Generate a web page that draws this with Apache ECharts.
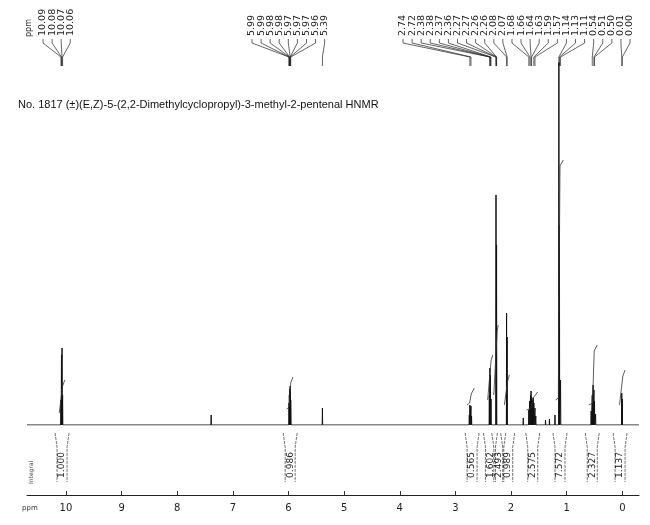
<!DOCTYPE html>
<html>
<head>
<meta charset="utf-8">
<script src="https://cdn.jsdelivr.net/npm/echarts@6/dist/echarts.min.js"></script>
<style>html,body{margin:0;padding:0;background:#fff}#c{width:650px;height:525px}</style>
</head>
<body>
<div id="c"></div>
<script>
// ---- data ----
const peakShifts = [10.09, 10.08, 10.07, 10.06, 7.39, 5.99, 5.985, 5.98, 5.975, 5.97, 5.965, 5.96, 5.39,
  2.75, 2.74, 2.72, 2.71, 2.39, 2.38, 2.37, 2.36, 2.27, 2.26, 2.08, 2.07, 1.78,
  1.68, 1.665, 1.65, 1.64, 1.63, 1.615, 1.60, 1.59, 1.57, 1.555, 1.38, 1.31, 1.21,
  1.14, 1.13, 1.11, 0.56, 0.54, 0.525, 0.51, 0.50, 0.48, 0.01, 0.00];
const peakHeights = [25, 70, 77, 30, 10, 22, 30, 33, 36, 39, 34, 25, 17,
  10, 20, 19, 9, 30, 57, 50, 26, 230, 180, 112, 88, 7,
  15, 24, 30, 34, 28, 25, 27, 22, 17, 9, 5, 6, 10,
  370, 200, 45, 14, 30, 40, 35, 24, 11, 32, 26];

const integralFrom   = [10.12, 6.03, 2.79, 2.42, 2.31, 2.12, 1.72, 1.20, 0.60, 0.05];
const integralCenter = [10.075, 5.975, 2.73, 2.375, 2.265, 2.075, 1.62, 1.135, 0.52, 0.005];
const integralTo     = [10.02, 5.92, 2.66, 2.33, 2.23, 2.03, 1.52, 1.06, 0.45, -0.05];
const integralLow    = [12, 16, 20, 25, 30, 20, 15, 25, 20, 20];
const integralHigh   = [45, 48, 37, 70, 100, 50, 33, 265, 80, 55];

const integralLabelShift = [10.07, 5.97, 2.70, 2.37, 2.22, 2.06, 1.61, 1.12, 0.54, 0.04];
const integralValues = ['1.000', '0.986', '0.565', '1.602', '2.493', '0.989', '2.575', '7.572', '2.327', '1.137'];

const leftLabels  = ['10.09', '10.08', '10.07', '10.06'];
const midLabels   = ['5.99', '5.99', '5.98', '5.98', '5.97', '5.97', '5.97', '5.96', '5.39'];
const rightLabels = ['2.74', '2.72', '2.38', '2.38', '2.37', '2.36', '2.27', '2.27', '2.26', '2.26', '2.08', '2.07',
  '1.68', '1.66', '1.64', '1.63', '1.59', '1.57', '1.14', '1.13', '1.11', '0.54', '0.51', '0.50', '0.01', '0.00'];

const axisTicks = [0, 1, 2, 3, 4, 5, 6, 7, 8, 9, 10];

// ---- layout constants ----
const groupStartX = [43, 252, 403];
const labelStep = 9.08;
const FONT = 'DejaVu Sans, sans-serif';
const INK = '#111';

// ---- build series data ----
const order = peakShifts.map((p, i) => i).sort((a, b) => peakShifts[b] - peakShifts[a]);
const spec = [[10.7, 0]];
const hw = 0.004;
order.forEach(i => {
  const p = peakShifts[i];
  spec.push([p + hw, 0], [p, peakHeights[i]], [p - hw, 0]);
});
spec.push([-0.3, 0]);

const integralSeries = integralFrom.map((f, i) => ({
  type: 'line', silent: true, symbol: 'none', animation: false,
  lineStyle: { color: '#333', width: 0.8 },
  data: [[f, integralLow[i]], [integralCenter[i] + 0.015, integralLow[i] + 2],
         [integralCenter[i] - 0.015, integralHigh[i] - 6], [integralTo[i], integralHigh[i]]]
}));

const labelData = [];
[leftLabels, midLabels, rightLabels].forEach((arr, g) => {
  arr.forEach((t, k) => labelData.push([parseFloat(t), 0, g, k]));
});
const labelTexts = [leftLabels, midLabels, rightLabels];

const chart = echarts.init(document.getElementById('c'), null, { renderer: 'canvas' });
chart.setOption({
  animation: false,
  backgroundColor: '#fff',
  title: {
    text: 'No. 1817 (±)(E,Z)-5-(2,2-Dimethylcyclopropyl)-3-methyl-2-pentenal HNMR',
    left: 13, top: 94,
    textStyle: { fontSize: 11, fontWeight: 'normal', color: INK, fontFamily: 'Liberation Sans, sans-serif' }
  },
  grid: { left: 27, right: 11, top: 63, height: 362 },
  xAxis: {
    type: 'value', inverse: true, min: -0.3, max: 10.7,
    offset: 70,
    axisLine: { onZero: false, lineStyle: { color: '#222', width: 1 } },
    axisTick: { customValues: axisTicks, length: 4, inside: true, lineStyle: { color: '#333' } },
    axisLabel: { customValues: axisTicks, color: '#222', fontSize: 10, fontFamily: FONT, margin: 8 },
    splitLine: { show: false }
  },
  yAxis: { type: 'value', min: 0, max: 362, show: false },
  graphic: [
    { type: 'text', x: 29, y: 37, rotation: Math.PI / 2,
      style: { text: 'ppm', fontSize: 8, fill: '#333', fontFamily: FONT, align: 'left', verticalAlign: 'middle' } },
    { type: 'text', x: 31, y: 484, rotation: Math.PI / 2,
      style: { text: 'Integral', fontSize: 6, fill: '#444', fontFamily: FONT, align: 'left', verticalAlign: 'middle' } },
    { type: 'text', x: 22, y: 505,
      style: { text: 'ppm', fontSize: 7, fill: '#333', fontFamily: FONT, align: 'left', verticalAlign: 'top' } }
  ],
  series: [
    {
      type: 'line', silent: true, symbol: 'none', animation: false, clip: true,
      lineStyle: { color: INK, width: 1 },
      data: spec
    },
    ...integralSeries,
    {
      type: 'custom', silent: true, clip: false,
      data: labelData,
      encode: { x: 0, y: 1 },
      renderItem: function (params, api) {
        const ppm = api.value(0), g = api.value(2), k = api.value(3);
        const xp = api.coord([ppm, 0])[0];
        const xc = groupStartX[g] + k * labelStep;
        return {
          type: 'group',
          children: [
            { type: 'text', x: xc, y: 36, rotation: Math.PI / 2,
              style: { text: labelTexts[g][k], fontSize: 9.5, fill: '#222', fontFamily: FONT,
                       align: 'left', verticalAlign: 'middle' } },
            { type: 'polyline',
              shape: { points: [[xc, 39], [xc, 43], [xp, 57], [xp, 66]] },
              style: { stroke: '#222', lineWidth: 0.7, fill: null } }
          ]
        };
      }
    },
    {
      type: 'custom', silent: true, clip: false,
      data: integralLabelShift.map((p, i) => [p, 0, i]),
      encode: { x: 0, y: 1 },
      renderItem: function (params, api) {
        const i = api.value(2);
        const x = api.coord([api.value(0), 0])[0];
        const dash = { stroke: '#333', lineWidth: 0.7, fill: null, lineDash: [3, 1] };
        return {
          type: 'group',
          children: [
            { type: 'polyline', shape: { points: [[x - 7, 433], [x - 5, 447], [x - 5, 482]] }, style: dash },
            { type: 'polyline', shape: { points: [[x + 7, 433], [x + 5, 447], [x + 5, 482]] }, style: dash },
            { type: 'text', x: x, y: 465, rotation: Math.PI / 2,
              style: { text: integralValues[i], fontSize: 9, fill: '#222', fontFamily: FONT,
                       align: 'center', verticalAlign: 'middle' } }
          ]
        };
      }
    }
  ]
});
</script>
</body>
</html>
